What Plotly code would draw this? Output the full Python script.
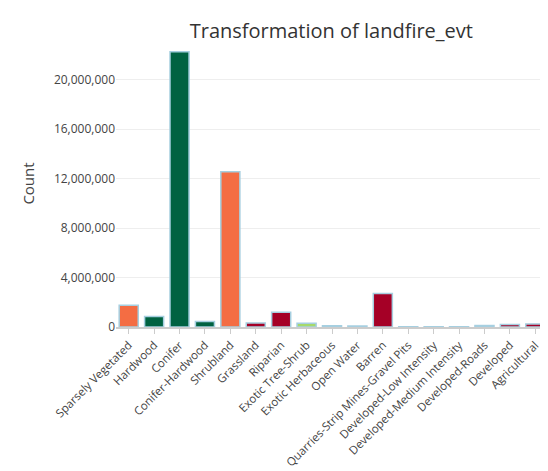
import plotly.graph_objects as go

categories = ['Sparsely Vegetated', 'Hardwood', 'Conifer', 'Conifer-Hardwood', 'Shrubland',
              'Grassland', 'Riparian', 'Exotic Tree-Shrub', 'Exotic Herbaceous', 'Open Water',
              'Barren', 'Quarries-Strip Mines-Gravel Pits', 'Developed-Low Intensity',
              'Developed-Medium Intensity', 'Developed-Roads', 'Developed', 'Agricultural']
counts = [1750000, 850000, 22250000, 450000, 12550000, 330000, 1200000, 300000, 100000,
          80000, 2700000, 20000, 20000, 20000, 120000, 200000, 250000]
colors = ['#f46d43', '#006241', '#006241', '#006241', '#f46d43', '#a50026', '#a50026',
          '#a6d96a', '#f4a582', '#abd9e9', '#a50026', '#d1e5f0', '#d1e5f0', '#d1e5f0',
          '#9e3a6a', '#a50026', '#a50026']

fig = go.Figure(go.Bar(x=categories, y=counts, marker_color=colors,
                       marker_line_color='#a6cfe0', marker_line_width=1.5))
fig.update_layout(
    width=548, height=471, template='plotly_white',
    font=dict(family='Open Sans', color='#444', size=12),
    title=dict(text='Transformation of landfire_evt', x=0.59, xanchor='center', y=0.965,
               font=dict(size=20, color='#333')),
    margin=dict(l=108, r=8, t=32, b=152),
    bargap=0.25, showlegend=False,
    yaxis=dict(title=dict(text='Count', font=dict(size=15)), tickformat=',d',
               tickvals=[0, 4e6, 8e6, 12e6, 16e6, 20e6], range=[0, 23.2e6],
               gridcolor='#eeeeee', zeroline=False, automargin=False),
    xaxis=dict(tickangle=-45, ticks='outside', ticklen=5, tickcolor='#ccc',
               showline=True, linecolor='#ccc', linewidth=2, automargin=False,
               tickfont=dict(size=11.5)),
)
fig.write_html('out.html')
